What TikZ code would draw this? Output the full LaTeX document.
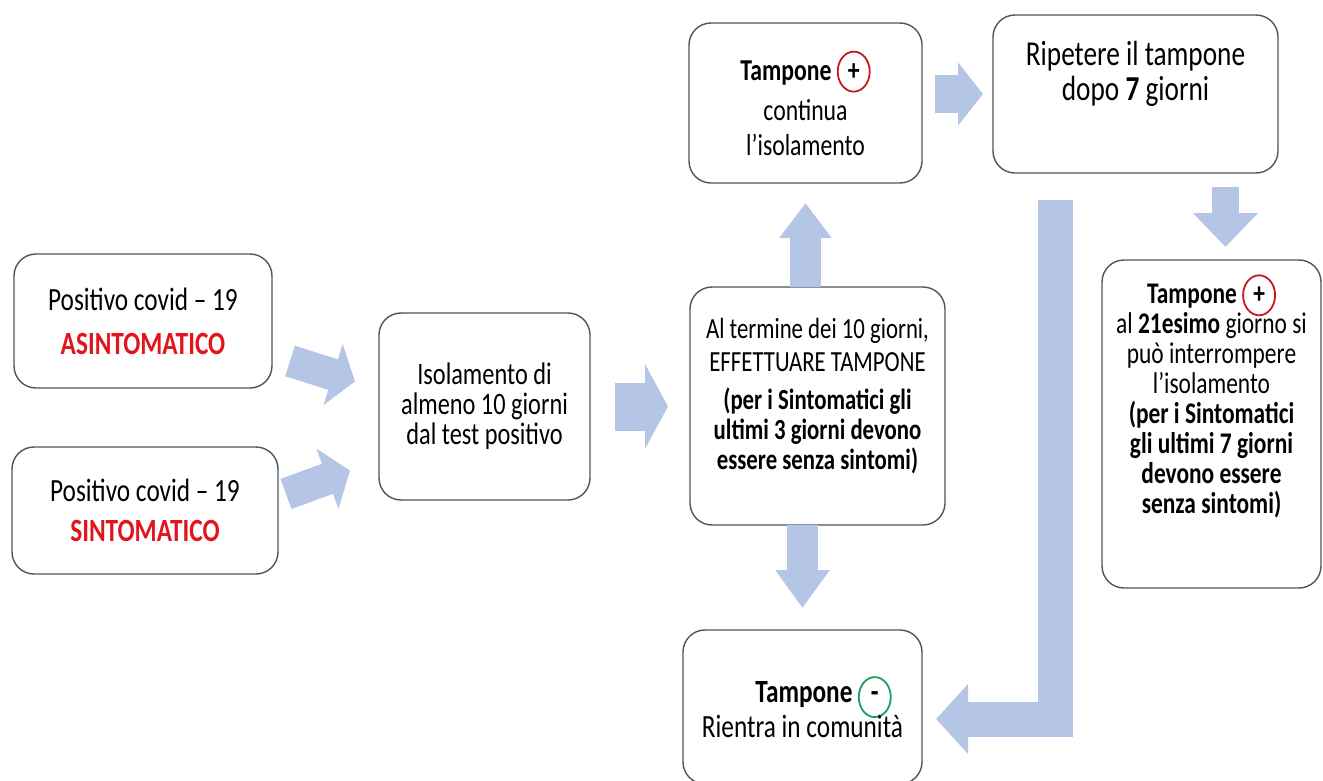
\documentclass[tikz,border=0pt]{standalone}
\usepackage{fontspec}
\setmainfont{Carlito}[FakeStretch=0.78]
\usetikzlibrary{arrows.meta,shapes.geometric}
\definecolor{azzurro}{RGB}{180,197,230}
\definecolor{bordo}{RGB}{75,85,100}
\definecolor{rosso}{RGB}{228,20,28}
\definecolor{cerchiorosso}{RGB}{200,25,35}
\definecolor{cerchioverde}{RGB}{25,160,95}
\setlength{\lineskiplimit}{-10pt}
\newcommand{\segno}[2]{\tikz[baseline=(m.base)]\node[ellipse,draw=#1,fill=white,line width=0.9pt,inner sep=0pt,minimum width=16pt,minimum height=20pt,text=black] (m) {\textbf{#2}};}

\begin{document}
\begin{tikzpicture}[x=0.5pt,y=-0.5pt,
		box/.style={draw=bordo,line width=0.7pt,rounded corners=11pt,fill=white,align=center,inner sep=0pt,outer sep=0pt},
		freccia/.style n args={3}{draw=azzurro,line width=#1,-{Triangle[length=#3,width=#2]}}]
			\useasboundingbox (0,0) rectangle (1323,781);
			% caselle
			\node[box,minimum width=129pt,minimum height=67pt,font=\fontsize{16.2}{22}\selectfont] (asint) at (143,321) {Positivo covid – 19\\ \textbf{\color{rosso}ASINTOMATICO}};
			\node[box,minimum width=133pt,minimum height=63.5pt,font=\fontsize{16.2}{20}\selectfont] (sint) at (145,510.5) {Positivo covid – 19\\ \textbf{\color{rosso}SINTOMATICO}};
			\node[box,minimum width=105.5pt,minimum height=93.5pt,font=\fontsize{15.6}{15}\selectfont] (iso) at (484.5,406.5) {Isolamento di\\ almeno 10 giorni\\ dal test positivo};
			\node[box,minimum width=127.5pt,minimum height=119pt,font=\fontsize{14.6}{15}\selectfont] (al) at (817.5,406) {Al termine dei 10 giorni,\\[1.5pt] EFFETTUARE TAMPONE\\[4pt] \textbf{(per i Sintomatici gli}\\ \textbf{ultimi 3 giorni devono}\\ \textbf{essere senza sintomi)}\\[-3pt]\mbox{}};
			\node[box,minimum width=116.5pt,minimum height=80pt,font=\fontsize{15.2}{17.5}\selectfont] (pos) at (805.5,103) {\textbf{Tampone} \segno{cerchiorosso}{+}\\[2.5pt] continua\\ l’isolamento};
			\node[box,minimum width=142.5pt,minimum height=79pt,font=\fontsize{17.5}{17.5}\selectfont] (rip) at (1135.5,94) {Ripetere il tampone\\ dopo \textbf{7} giorni\\[5.5pt]\mbox{}};
			\node[box,minimum width=109.5pt,minimum height=164pt,font=\fontsize{15}{15}\selectfont] (fine) at (1211.5,424) {\textbf{Tampone} \segno{cerchiorosso}{+}\\ al \textbf{21esimo} giorno si\\ può interrompere\\ l’isolamento\\ \textbf{(per i Sintomatici}\\ \textbf{gli ultimi 7 giorni}\\ \textbf{devono essere}\\ \textbf{senza sintomi)}\\[15pt]\mbox{}};
			\node[box,minimum width=119.5pt,minimum height=77pt,font=\fontsize{16.2}{17.5}\selectfont] (neg) at (802.5,707) {\hspace*{1.3em}\textbf{Tampone}\,\segno{cerchioverde}{-}\\ Rientra in comunità};
			% frecce
			\draw[freccia={16pt}{31.5pt}{11.5pt}] ([shift={(18,40)}]asint.east) -- ([shift={(-24,-25)}]iso.west);
			\draw[freccia={16pt}{31.5pt}{12pt}] ([shift={(8,-16.5)}]sint.east) -- ([shift={(-29,64)}]iso.west);
			\draw[freccia={24pt}{42pt}{11.5pt},shorten <=12.5pt,shorten >=11pt] (iso.east) -- (iso.east -| al.west);
			\draw[freccia={15.5pt}{25pt}{17.5pt},shorten >=10pt] (al.north -| pos.south) -- (pos.south);
			\draw[freccia={15.5pt}{26pt}{19pt},shorten >=11pt] (al.south -| neg.north) -- (neg.north);
			\draw[freccia={19pt}{31pt}{12.5pt},shorten <=6.5pt,shorten >=5pt] (pos.east |- rip.west) -- (rip.west);
			\draw[freccia={13.5pt}{31.5pt}{17pt},shorten <=7pt,shorten >=6.5pt] ([xshift=7pt]fine.north |- rip.south) -- ([xshift=7pt]fine.north);
			\coordinate (gomito) at (1055.5,719);
			\draw[freccia={17.5pt}{34pt}{16pt},shorten <=13.5pt,shorten >=7pt] (rip.south -| gomito) -- (gomito) -- (neg.east |- gomito);
		\end{tikzpicture}
\end{document}
